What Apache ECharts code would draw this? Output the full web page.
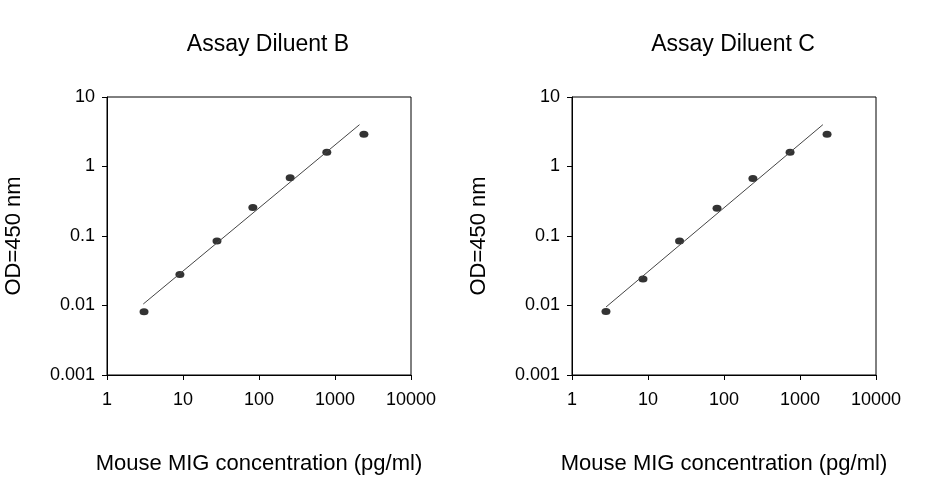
<!DOCTYPE html>
<html><head><meta charset="utf-8">
<script src="https://cdn.jsdelivr.net/npm/echarts@6/dist/echarts.min.js"></script>
<style>html,body{margin:0;padding:0;background:#fff}#c{width:926px;height:480px}</style>
</head><body><div id="c"></div>
<script>
const titles = ['Assay Diluent B', 'Assay Diluent C'];
const concB = [3.07, 9.1, 28, 83, 257, 780, 2400];
const odB = [0.0081, 0.028, 0.085, 0.257, 0.69, 1.6, 2.9];
const concC = [2.8, 8.6, 26, 81, 240, 740, 2270];
const odC = [0.0082, 0.024, 0.085, 0.25, 0.67, 1.6, 2.9];
const fitB = [[3.0, 0.0105], [2100, 4.0]];
const fitC = [[2.8, 0.0095], [2000, 4.0]];

const chart = echarts.init(document.getElementById('c'));
const font = 'Liberation Sans, Arial, sans-serif';
const lefts = [107, 572];

function xAxis(i) {
  return {
    type: 'log', logBase: 10, min: 1, max: 10000, gridIndex: i,
    name: 'Mouse MIG concentration (pg/ml)', nameLocation: 'middle', nameGap: 78,
    nameTextStyle: { fontFamily: font, fontSize: 22, color: '#000' },
    axisLine: { lineStyle: { color: '#000' } },
    axisTick: { lineStyle: { color: '#000' }, length: 5 },
    axisLabel: { fontFamily: font, fontSize: 18, color: '#000', margin: 16,
      formatter: v => String(Math.round(v)) },
    splitLine: { show: false }, minorTick: { show: false }
  };
}
function yAxis(i) {
  return {
    type: 'log', logBase: 10, min: 0.001, max: 10, gridIndex: i,
    name: 'OD=450 nm', nameLocation: 'middle', nameGap: 82,
    nameTextStyle: { fontFamily: font, fontSize: 22, color: '#000' },
    axisLine: { lineStyle: { color: '#000' } },
    axisTick: { lineStyle: { color: '#000' }, length: 5 },
    axisLabel: { fontFamily: font, fontSize: 18, color: '#000', margin: 12,
      formatter: v => String(+v.toPrecision(1)) },
    splitLine: { show: false }
  };
}

chart.setOption({
  animation: false,
  title: titles.map((t, i) => ({
    text: t, left: lefts[i] + 156, top: 28, textAlign: 'center',
    textStyle: { fontFamily: font, fontSize: 23, fontWeight: 'normal', color: '#000' }
  })),
  grid: lefts.map(l => ({ left: l, top: 97, width: 304, height: 290, show: true, borderColor: '#000', borderWidth: 1 })),
  xAxis: [xAxis(0), xAxis(1)],
  yAxis: [yAxis(0), yAxis(1)],
  series: [
    { type: 'line', xAxisIndex: 0, yAxisIndex: 0, data: fitB, symbol: 'none', lineStyle: { color: '#444', width: 1 } },
    { type: 'scatter', xAxisIndex: 0, yAxisIndex: 0, data: concB.map((x, k) => [x, odB[k]]), symbolSize: [9, 7], itemStyle: { color: '#000' } },
    { type: 'line', xAxisIndex: 1, yAxisIndex: 1, data: fitC, symbol: 'none', lineStyle: { color: '#444', width: 1 } },
    { type: 'scatter', xAxisIndex: 1, yAxisIndex: 1, data: concC.map((x, k) => [x, odC[k]]), symbolSize: [9, 7], itemStyle: { color: '#000' } }
  ]
});
</script></body></html>
